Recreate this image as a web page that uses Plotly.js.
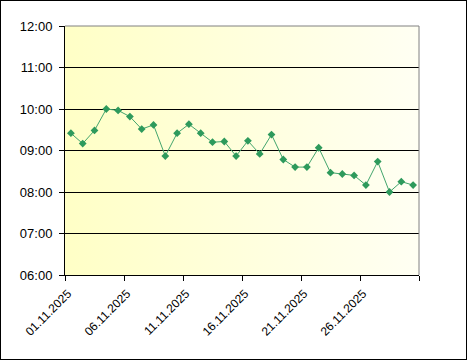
<!DOCTYPE html>
<html>
<head>
<meta charset="utf-8">
<script src="https://cdn.plot.ly/plotly-3.0.1.min.js"></script>
<style>
  html, body { margin: 0; padding: 0; background: #ffffff; }
  #wrap { position: relative; width: 467px; height: 360px; overflow: hidden; }
  #bg { position: absolute; left: 65px; top: 26px; width: 354px; height: 249px;
        background: linear-gradient(to right, #FFFFC6, #FFFFF3); }
  #chart { position: absolute; left: 0; top: 0; width: 467px; height: 360px; }
  #frame { position: absolute; left: 0; top: 0; width: 467px; height: 360px;
           box-sizing: border-box; border: 1px solid #000; pointer-events: none; }
</style>
</head>
<body>
<div id="wrap">
  <div id="bg"></div>
  <div id="chart"></div>
  <div id="frame"></div>
</div>
<script>
// Data
const dates = [
  '2025-11-01','2025-11-02','2025-11-03','2025-11-04','2025-11-05',
  '2025-11-06','2025-11-07','2025-11-08','2025-11-09','2025-11-10',
  '2025-11-11','2025-11-12','2025-11-13','2025-11-14','2025-11-15',
  '2025-11-16','2025-11-17','2025-11-18','2025-11-19','2025-11-20',
  '2025-11-21','2025-11-22','2025-11-23','2025-11-24','2025-11-25',
  '2025-11-26','2025-11-27','2025-11-28','2025-11-29','2025-11-30'
];
const times = [
  '09:25','09:10','09:29','10:00','09:58',
  '09:49','09:31','09:37','08:52','09:25',
  '09:38','09:25','09:12','09:13','08:52',
  '09:14','08:55','09:23','08:47','08:36',
  '08:36','09:04','08:28','08:26','08:24',
  '08:10','08:44','08:00','08:15','08:10'
];
const xTickVals = ['2025-11-01','2025-11-06','2025-11-11','2025-11-16','2025-11-21','2025-11-26','2025-12-01'];
const xTickText = ['01.11.2025','06.11.2025','11.11.2025','16.11.2025','21.11.2025','26.11.2025',''];
const yTickVals = ['06:00','07:00','08:00','09:00','10:00','11:00','12:00'];

const baseDay = '1970-01-01 ';
const trace = {
  type: 'scatter',
  mode: 'lines+markers',
  x: dates.map(d => d + ' 12:00'),
  y: times.map(t => baseDay + t),
  line: { color: '#43A56D', width: 1 },
  marker: { symbol: 'diamond', size: 6, color: '#2E9A5C' },
  hoverinfo: 'skip'
};

const fam = '"Liberation Sans", Arial, sans-serif';
const xFont = { family: fam, size: 12, color: '#000000' };
const yFont = { family: fam, size: 13, color: '#000000' };

const layout = {
  width: 467, height: 360,
  margin: { l: 65, r: 48, t: 26, b: 85, pad: 0 },
  paper_bgcolor: 'rgba(0,0,0,0)',
  plot_bgcolor: 'rgba(0,0,0,0)',
  showlegend: false,
  font: xFont,
  xaxis: {
    type: 'date',
    range: ['2025-11-01', '2025-12-01'],
    tickmode: 'array',
    tickvals: xTickVals,
    ticktext: xTickText,
    tickangle: -45,
    ticks: 'outside', ticklen: 5, tickcolor: '#000', tickwidth: 1,
    ticklabelshift: 3, ticklabelstandoff: 1,
    showline: true, linecolor: '#000', linewidth: 1,
    showgrid: false, zeroline: false,
    tickfont: xFont, fixedrange: true
  },
  yaxis: {
    type: 'date',
    range: [baseDay + '06:00', baseDay + '12:00'],
    tickmode: 'array',
    tickvals: yTickVals.map(t => baseDay + t),
    ticktext: yTickVals,
    ticks: 'outside', ticklen: 5, tickcolor: '#000', tickwidth: 1,
    ticklabelstandoff: 4,
    showline: true, linecolor: '#000', linewidth: 1,
    showgrid: true, gridcolor: '#000', gridwidth: 1,
    zeroline: false,
    tickfont: yFont, fixedrange: true
  },
  shapes: [
    { type: 'line', xref: 'paper', yref: 'paper', x0: 0, x1: 1, y0: 1, y1: 1,
      line: { color: '#808080', width: 1 }, layer: 'above' },
    { type: 'line', xref: 'paper', yref: 'paper', x0: 1, x1: 1, y0: 0, y1: 1,
      line: { color: '#808080', width: 1 }, layer: 'above' }
  ]
};

Plotly.newPlot('chart', [trace], layout, { staticPlot: true, displayModeBar: false });
</script>
</body>
</html>
